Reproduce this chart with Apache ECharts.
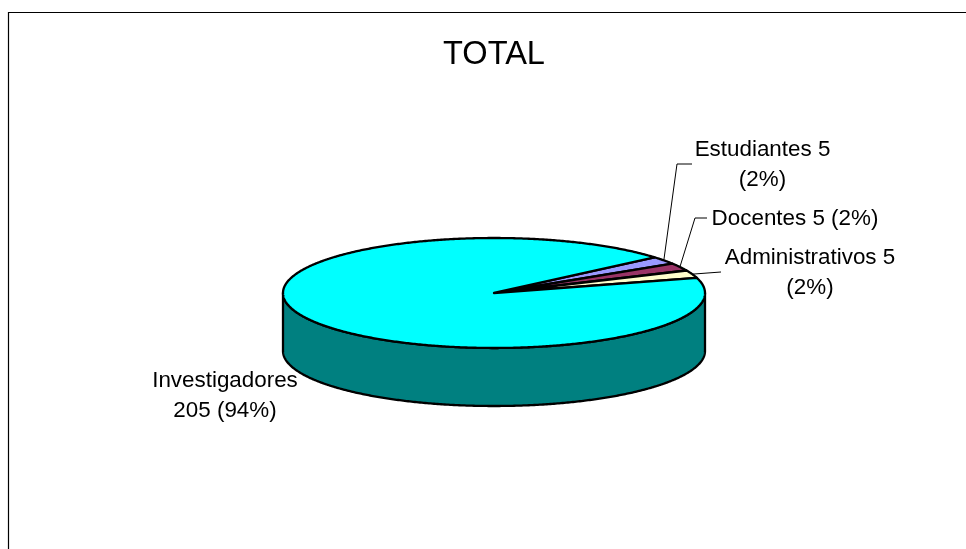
<!DOCTYPE html>
<html>
<head>
<meta charset="utf-8">
<style>html,body{margin:0;padding:0;background:#fff}#c{width:966px;height:549px}</style>
<script src="https://cdn.jsdelivr.net/npm/echarts@6/dist/echarts.min.js"></script>
</head>
<body>
<div id="c"></div>
<script>
var chartTitle = 'TOTAL';
var categories = ['Estudiantes', 'Docentes', 'Administrativos', 'Investigadores'];
var values = [5, 5, 5, 205];
var labels = ['Estudiantes 5\n(2%)', 'Docentes 5 (2%)', 'Administrativos 5\n(2%)', 'Investigadores\n205 (94%)'];
var topColors = ['#9999FF', '#993366', '#FFFFCC', '#00FFFF'];
var sideColors = ['#4C4C80', '#4C1933', '#808066', '#008080'];

var startDeg = 40.5;      // first slice edge on the ellipse, going clockwise
var depth = 1.055;        // wall height in radius units of the flattened y axis
var labelPos = [[762.5, 165], [795, 219], [810, 273], [225, 396]];
var leaderPts = [[[677, 164], [692, 164]], [[695, 218], [707, 218]], [[721, 272]], null];

var total = values.reduce(function (a, b) { return a + b; }, 0);
var FONT = '"Liberation Sans", Arial, sans-serif';

function arc(api, from, to, drop) {
  var pts = [], n = Math.max(2, Math.ceil(Math.abs(to - from) * 2));
  for (var i = 0; i <= n; i++) {
    var t = (from + (to - from) * i / n) * Math.PI / 180;
    pts.push(api.coord([Math.cos(t), Math.sin(t) - drop]));
  }
  return pts;
}

function renderSlice(params, api) {
  var i = params.dataIndex, before = 0;
  for (var k = 0; k < i; k++) before += values[k];
  var a0 = startDeg - before / total * 360;
  var a1 = a0 - api.value(1) / total * 360;
  var children = [];
  var hi = Math.min(a0, 0), lo = Math.max(a1, -180);
  if (hi > lo) {
    var wall = arc(api, hi, lo, 0).concat(arc(api, lo, hi, depth));
    children.push({ type: 'polygon', shape: { points: wall },
      style: { fill: sideColors[i], stroke: '#000', lineWidth: 2.3, lineJoin: 'round' } });
  }
  var top = [api.coord([0, 0])].concat(arc(api, a0, a1, 0));
  children.push({ type: 'polygon', shape: { points: top },
    style: { fill: topColors[i], stroke: '#000', lineWidth: 2.3, lineJoin: 'round' } });
  if (leaderPts[i]) {
    var mid = (a0 + a1) / 2 * Math.PI / 180;
    var rim = api.coord([Math.cos(mid), Math.sin(mid)]);
    children.push({ type: 'polyline', shape: { points: [rim].concat(leaderPts[i]) },
      style: { fill: null, stroke: '#000', lineWidth: 1 } });
  }
  children.push({ type: 'text', z2: 10, style: {
    text: labels[i], x: labelPos[i][0], y: labelPos[i][1],
    align: 'center', verticalAlign: 'middle',
    fontFamily: FONT, fontSize: 22.4, lineHeight: 29.5, fill: '#000' } });
  return { type: 'group', children: children };
}

var chart = echarts.init(document.getElementById('c'), null, { renderer: 'canvas' });
chart.setOption({
  animation: false,
  backgroundColor: '#fff',
  title: { text: chartTitle, left: 489, top: 34, textAlign: 'center',
    textStyle: { fontFamily: FONT, fontSize: 32.6, fontWeight: 'normal', color: '#000' } },
  graphic: [{ type: 'rect', silent: true, z: -1,
    shape: { x: 8.5, y: 12.5, width: 1000, height: 600 },
    style: { fill: '#fff', stroke: '#000', lineWidth: 1.2 } }],
  grid: { left: 283, top: 238, width: 422, height: 168 },
  xAxis: { type: 'value', min: -1, max: 1, show: false },
  yAxis: { type: 'value', min: -1 - depth, max: 1, show: false },
  series: [{
    type: 'custom', clip: false, renderItem: renderSlice,
    encode: { x: 0, y: 1 },
    data: values.map(function (v, i) { return { name: categories[i], value: [i, v] }; })
  }]
});
</script>
</body>
</html>
